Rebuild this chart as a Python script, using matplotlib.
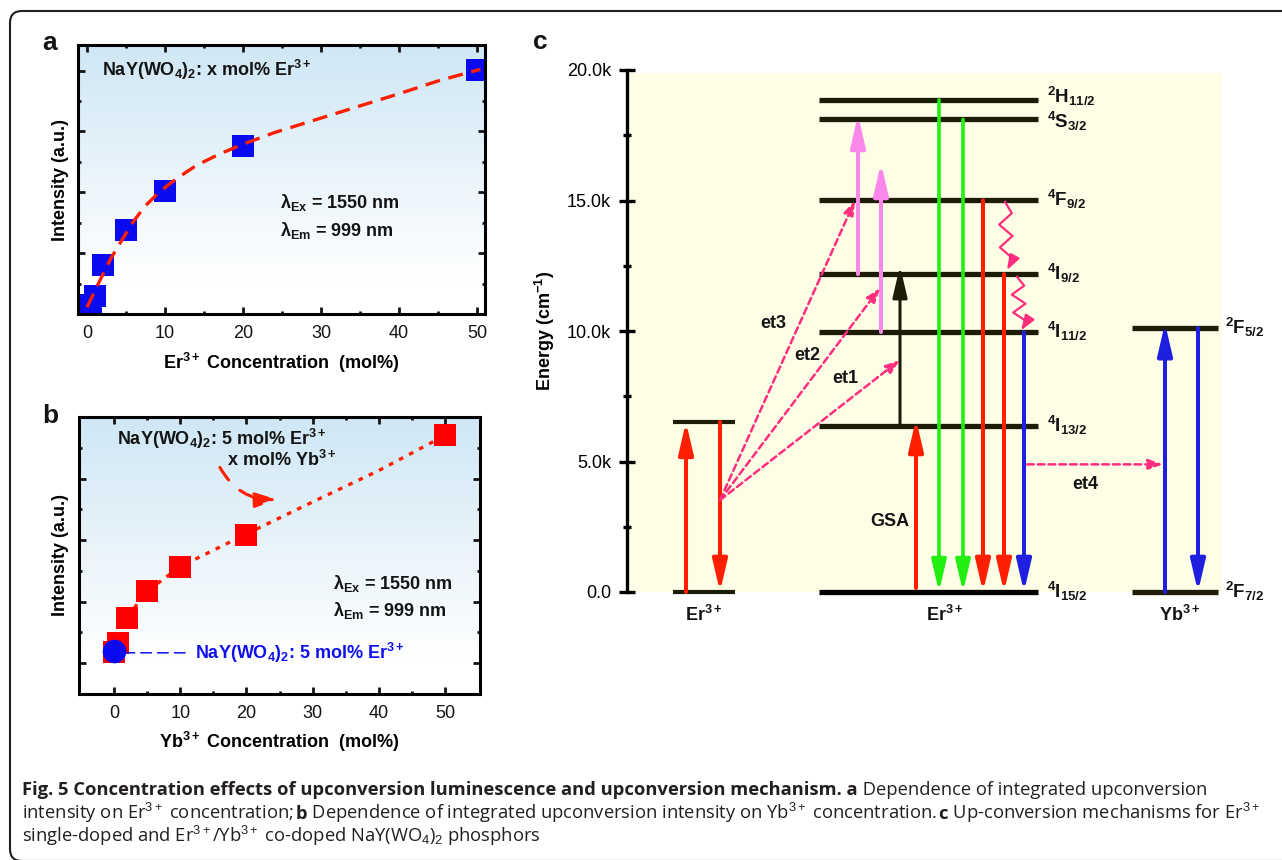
import numpy as np
import matplotlib
matplotlib.use("Agg")
import matplotlib.pyplot as plt
from matplotlib.colors import LinearSegmentedColormap
from matplotlib.patches import Rectangle, FancyBboxPatch
from matplotlib.transforms import IdentityTransform

plt.rcParams["font.family"] = "Liberation Sans"
plt.rcParams["mathtext.fontset"] = "custom"
plt.rcParams["mathtext.rm"] = "Liberation Sans"
plt.rcParams["mathtext.it"] = "Liberation Sans:italic"
plt.rcParams["mathtext.bf"] = "Liberation Sans:bold"
plt.rcParams["text.color"] = "#141414"

W, H = 1282, 860

# ---- panel a: Er3+ concentration series
er_conc = [0.5, 1, 2, 5, 10, 20, 50]
er_intensity = [0.14, 0.30, 0.80, 1.38, 2.02, 2.76, 4.01]
er_fit_x = [0, 1, 2, 3, 4.5, 6, 7.5, 9, 10.5, 12, 14, 17, 20, 24, 28, 32, 36, 40, 45, 50.4]
er_fit_y = [0.11, 0.38, 0.64, 0.90, 1.22, 1.53, 1.78, 1.97, 2.13, 2.27, 2.44, 2.63, 2.79, 2.98,
            3.14, 3.30, 3.46, 3.62, 3.83, 4.02]

# ---- panel b: Yb3+ concentration series (5 mol% Er3+)
yb_conc = [0, 0.6, 2, 5, 10, 20, 50]
yb_intensity = [1.19, 1.33, 1.73, 2.17, 2.57, 3.09, 4.70]
yb_fit_x = [2, 5, 10, 20, 30, 40, 50]
yb_fit_y = [1.75, 2.17, 2.57, 3.10, 3.62, 4.13, 4.70]
er_only_x, er_only_y = 0, 1.20

# ---- panel c: energy levels (cm^-1)
er_level_E = [0, 6360, 9960, 12180, 15010, 18110, 18850]
er_level_names = [r"$^{\mathbf{4}}\mathbf{I}_{\mathbf{15/2}}$", r"$^{\mathbf{4}}\mathbf{I}_{\mathbf{13/2}}$",
                  r"$^{\mathbf{4}}\mathbf{I}_{\mathbf{11/2}}$", r"$^{\mathbf{4}}\mathbf{I}_{\mathbf{9/2}}$",
                  r"$^{\mathbf{4}}\mathbf{F}_{\mathbf{9/2}}$", r"$^{\mathbf{4}}\mathbf{S}_{\mathbf{3/2}}$",
                  r"$^{\mathbf{2}}\mathbf{H}_{\mathbf{11/2}}$"]
sens_level_E = [0, 6520]
yb_level_E = [0, 10110]
yb_level_names = [r"$^{\mathbf{2}}\mathbf{F}_{\mathbf{7/2}}$", r"$^{\mathbf{2}}\mathbf{F}_{\mathbf{5/2}}$"]
energy_ticks = [0, 5000, 10000, 15000, 20000]
energy_ticklabels = ["0.0", "5.0k", "10.0k", "15.0k", "20.0k"]
et_source_E = 3520
et_target_E = [8890, 11650, 15000]
et4_E = 4890

RED = "#ff1e00"
GREEN = "#22ee11"
BLUE = "#1f1fe0"
VIOLET = "#fa88ea"
PINK = "#ff2d7e"
DARK = "#1e1c08"

fig = plt.figure(figsize=(W / 100, H / 100), dpi=100)


def px_axes(l, t, r, b):
    return fig.add_axes([l / W, 1 - b / H, (r - l) / W, (b - t) / H])


bg_cmap = LinearSegmentedColormap.from_list("bg", [(0, "#ffffff"), (0.12, "#ffffff"), (1, "#cfe7f5")])
grad = np.linspace(0, 1, 256).reshape(-1, 1)


def conc_axes(ax, xlim, ylim, minor_y):
    ax.imshow(grad, extent=[0, 1, 0, 1], transform=ax.transAxes, origin="lower",
              cmap=bg_cmap, aspect="auto", zorder=0)
    ax.set_xlim(*xlim)
    ax.set_ylim(*ylim)
    ax.set_xticks(range(0, 51, 10))
    ax.set_xticks(range(5, 51, 10), minor=True)
    ax.set_yticks([1, 2, 3, 4])
    ax.set_yticks(minor_y, minor=True)
    ax.tick_params(which="both", direction="in", top=True, right=True, width=2,
                   labelsize=13, pad=8, labelleft=False, colors="#141414")
    ax.tick_params(which="major", length=5)
    ax.tick_params(which="minor", length=2.5)
    for s in ax.spines.values():
        s.set_linewidth(2.2)


# ================= panel a
ax_a = px_axes(78, 45, 485, 314)
conc_axes(ax_a, (-1.15, 51.0), (0, 4.42), [0.5, 1.5, 2.5, 3.5])
ax_a.plot(er_fit_x, er_fit_y, color=RED, lw=2.4, linestyle=(0, (4.5, 2.6)), zorder=3)
ax_a.plot(er_conc, er_intensity, "s", color="#0a0aee", markersize=15.5, markeredgewidth=0, zorder=2)
ax_a.set_xlabel(r"Er$^{\mathbf{3+}}$ Concentration  (mol%)", fontsize=13, fontweight="bold", va="center")
ax_a.xaxis.set_label_coords(0.5, -0.182)
ax_a.set_ylabel("Intensity (a.u.)", fontsize=13, fontweight="bold", va="center")
ax_a.yaxis.set_label_coords(-0.044, 0.5)
ax_a.text(0.059, 0.907, r"NaY(WO$_\mathbf{4}$)$_\mathbf{2}$: x mol% Er$^{\mathbf{3+}}$", transform=ax_a.transAxes,
          fontsize=13, fontweight="bold", va="center")
ax_a.text(0.496, 0.413, r"$\mathbf{\lambda_{Ex}}$ = 1550 nm", transform=ax_a.transAxes,
          fontsize=13, fontweight="bold", va="center")
ax_a.text(0.496, 0.312, r"$\mathbf{\lambda_{Em}}$ = 999 nm", transform=ax_a.transAxes,
          fontsize=13, fontweight="bold", va="center")

# ================= panel b
ax_b = px_axes(79, 417, 480, 694)
conc_axes(ax_b, (-5.3, 55.3), (0.5, 5.0), [1.5, 2.5, 3.5, 4.5])
ax_b.plot(yb_fit_x, yb_fit_y, color=RED, lw=2.4, linestyle=(0, (1.4, 2.0)), zorder=1.5)
ax_b.plot(yb_conc, yb_intensity, "s", color="#ff0000", markersize=16.3, markeredgewidth=0, zorder=2)
ax_b.plot([er_only_x], [er_only_y], "o", color="#0a0aee", markersize=17, markeredgewidth=0, zorder=3)
ax_b.annotate(r"NaY(WO$_\mathbf{4}$)$_\mathbf{2}$: 5 mol% Er$^{\mathbf{3+}}$", xy=(er_only_x, er_only_y - 0.03),
              xytext=(12.2, 1.166), color="#1010ee", fontsize=13, fontweight="bold", va="center",
              arrowprops=dict(arrowstyle="-", color="#1010ee", lw=1.1, linestyle=(0, (7, 4)),
                              shrinkA=5, shrinkB=9))
ax_b.text(0.095, 0.92, r"NaY(WO$_\mathbf{4}$)$_\mathbf{2}$: 5 mol% Er$^{\mathbf{3+}}$", transform=ax_b.transAxes,
          fontsize=13, fontweight="bold", va="center")
ax_b.text(0.369, 0.845, r"x mol% Yb$^{\mathbf{3+}}$", transform=ax_b.transAxes,
          fontsize=13, fontweight="bold", va="center")
ax_b.annotate("", xy=(24.6, 3.66), xytext=(16, 4.18),
              arrowprops=dict(arrowstyle="-|>,head_length=13,head_width=4.5", mutation_scale=1,
                              connectionstyle="arc3,rad=0.3", color=RED, lw=2.2,
                              linestyle=(0, (5, 5)), shrinkA=0, shrinkB=0))
ax_b.text(0.633, 0.40, r"$\mathbf{\lambda_{Ex}}$ = 1550 nm", transform=ax_b.transAxes,
          fontsize=13, fontweight="bold", va="center")
ax_b.text(0.633, 0.303, r"$\mathbf{\lambda_{Em}}$ = 999 nm", transform=ax_b.transAxes,
          fontsize=13, fontweight="bold", va="center")
ax_b.set_xlabel(r"Yb$^{\mathbf{3+}}$ Concentration  (mol%)", fontsize=13, fontweight="bold", va="center")
ax_b.xaxis.set_label_coords(0.5, -0.173)
ax_b.set_ylabel("Intensity (a.u.)", fontsize=13, fontweight="bold", va="center")
ax_b.yaxis.set_label_coords(-0.047, 0.5)

# ================= panel c
ax_c = px_axes(627, 70, 1222, 592)
ax_c.set_xlim(627, 1222)
ax_c.set_ylim(0, 20000)
ax_c.patch.set_visible(False)
for side in ("top", "right", "bottom"):
    ax_c.spines[side].set_visible(False)
ax_c.spines["left"].set_linewidth(2.4)
ax_c.set_xticks([])
ax_c.set_yticks(energy_ticks)
ax_c.set_yticklabels(energy_ticklabels)
ax_c.set_yticks([2500, 7500, 12500, 17500], minor=True)
ax_c.tick_params(axis="y", which="both", direction="inout", width=2.4, labelsize=13, pad=5.5)
ax_c.tick_params(axis="y", which="major", length=12)
ax_c.tick_params(axis="y", which="minor", length=6)
ax_c.set_ylabel(r"Energy (cm$^{\mathbf{-1}}$)", fontsize=13, fontweight="bold", va="center")
ax_c.yaxis.set_label_coords(-0.138, 0.5)
ax_c.add_patch(Rectangle((627, 0), 595, 19880, facecolor="#fefee6", edgecolor="none", zorder=0))

# columns (x positions in panel px units)
SENS = (673, 735)
ERM = (819, 1038)
YBC = (1132, 1218)

label_shift = {18850: -120, 18110: -330}
for e in sens_level_E:
    ax_c.plot(SENS, [e, e], color=DARK, lw=3.0, solid_capstyle="butt", clip_on=False, zorder=2)
for e, name in zip(er_level_E, er_level_names):
    ax_c.plot(ERM, [e, e], color="#000000" if e == 0 else DARK, lw=3.8,
              solid_capstyle="butt", clip_on=False, zorder=2)
    ax_c.text(1047, e + label_shift.get(e, -230), name, fontsize=13.5, va="baseline", ha="left")
for e, name in zip(yb_level_E, yb_level_names):
    ax_c.plot(YBC, [e, e], color=DARK, lw=3.8, solid_capstyle="butt", clip_on=False, zorder=2)
    ax_c.text(1225, e - 230, name, fontsize=13.5, va="baseline", ha="left")


def arrow(x0, e0, x1, e1, color, lw=2.9, hl=19, hw=4.4, ls="-", z=4):
    ax_c.annotate("", xy=(x1, e1), xytext=(x0, e0), annotation_clip=False,
                  arrowprops=dict(arrowstyle=f"-|>,head_length={hl},head_width={hw}", mutation_scale=1,
                                  color=color, lw=lw, linestyle=ls, shrinkA=0, shrinkB=0),
                  zorder=z)


# sensitizer Er3+ column
arrow(686, sens_level_E[0], 686, sens_level_E[1], RED)
arrow(720, sens_level_E[1], 720, sens_level_E[0], RED)
# excitation / upconversion in Er3+
arrow(916, 150, 916, 6630, RED)
arrow(900, er_level_E[1], 900, 12500, DARK, lw=2.2)
arrow(858, er_level_E[3], 858, 18280, VIOLET)
arrow(881, er_level_E[2], 881, 16440, VIOLET)
# emissions
arrow(939, er_level_E[6], 939, 0, GREEN, lw=2.6)
arrow(963, er_level_E[5], 963, 0, GREEN, lw=2.6)
arrow(983, er_level_E[4], 983, 0, RED)
arrow(1004, er_level_E[3], 1004, 0, RED)
arrow(1024, er_level_E[2], 1024, 0, BLUE)
# Yb3+
arrow(1165, yb_level_E[0], 1165, 10300, BLUE)
arrow(1198, yb_level_E[1], 1198, 0, BLUE)

# energy transfer (dashed)
for xt, et in zip([900, 880, 855], et_target_E):
    arrow(720, et_source_E, xt, et, PINK, lw=1.8, hl=8.5, hw=3.0, ls=(0, (2.7, 1.6)), z=5)
arrow(1027, et4_E, 1163, et4_E, PINK, lw=1.8, hl=8.5, hw=3.0, ls=(0, (2.7, 1.6)), z=5)


def zigzag(x0, e0, x1, e1, n, amp):
    t = np.linspace(0, 1, n + 1)
    xs = x0 + (x1 - x0) * t + amp * np.array([0] + [(-1) ** i for i in range(n - 1)] + [0])
    es = e0 + (e1 - e0) * t
    ax_c.plot(xs[:-1], es[:-1], color=PINK, lw=1.6, zorder=5, clip_on=False)
    arrow(xs[-2], es[-2], xs[-1], es[-1], PINK, lw=1.6, hl=9, hw=3.2, z=5)


zigzag(1005, er_level_E[4] - 60, 1007, er_level_E[3] + 150, 6, 6.5)
zigzag(1017, er_level_E[3] - 100, 1021, er_level_E[2] + 60, 6, 6.5)

bold13 = dict(fontsize=13, fontweight="bold", ha="center", va="center")
ax_c.text(773, 10306, "et3", **bold13)
ax_c.text(807, 9080, "et2", **bold13)
ax_c.text(845, 8199, "et1", **bold13)
ax_c.text(1085, 4100, "et4", **bold13)
ax_c.text(890, 2682, "GSA", **bold13)
ax_c.text(704, -881, r"Er$^{\mathbf{3+}}$", **bold13)
ax_c.text(945, -881, r"Er$^{\mathbf{3+}}$", **bold13)
ax_c.text(1180, -881, r"Yb$^{\mathbf{3+}}$", **bold13)

# panel letters
for lab, x, y in (("a", 50, 50), ("b", 50, 423), ("c", 540, 49)):
    fig.text(x / W, 1 - y / H, lab, fontsize=19, fontweight="bold", ha="center", va="baseline")

# frame
fig.add_artist(FancyBboxPatch((10, -1), 1300, 850, boxstyle="round,pad=0,rounding_size=12",
                              transform=IdentityTransform(), facecolor="none",
                              edgecolor="#231f20", lw=1.5))

# caption
renderer = fig.canvas.get_renderer()
caption = [
    [("Fig. 5 Concentration effects of upconversion luminescence and upconversion mechanism. a", "bold"),
     (" Dependence of integrated upconversion", "normal")],
    [("intensity on Er$^{3+}$ concentration; ", "normal"), ("b", "bold"),
     (" Dependence of integrated upconversion intensity on Yb$^{3+}$ concentration. ", "normal"),
     ("c", "bold"), (" Up-conversion mechanisms for Er$^{3+}$", "normal")],
    [("single-doped and Er$^{3+}$/Yb$^{3+}$ co-doped NaY(WO$_4$)$_2$ phosphors", "normal")],
]
for line, yb in zip(caption, [795, 819, 842]):
    x = 22
    for s, w in line:
        t = fig.text(x / W, 1 - yb / H, s, fontsize=13.2, fontweight=w, family="Open Sans",
                     color="#231f20", va="baseline", ha="left")
        x += t.get_window_extent(renderer=renderer).width

fig.savefig("out.png", dpi=100)
